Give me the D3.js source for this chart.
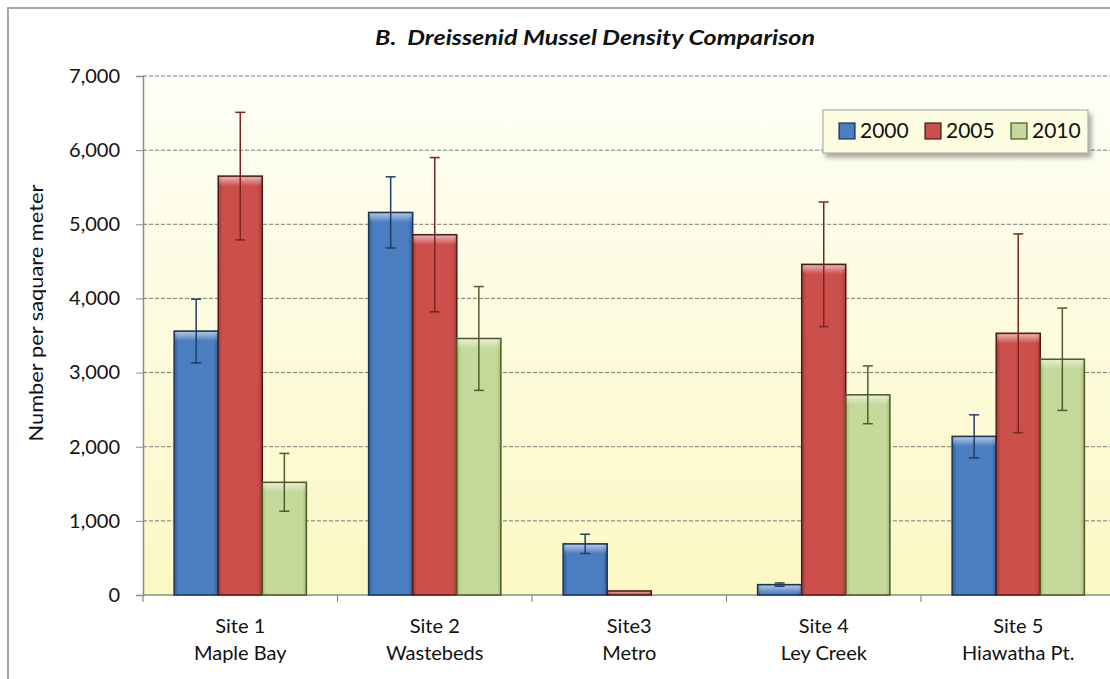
<!DOCTYPE html>
<html>
<head>
<meta charset="utf-8">
<script src="https://cdn.jsdelivr.net/npm/d3@7"></script>
<style>
  body { margin: 0; background: #fff; }
  svg text { font-family: Lato, "Open Sans", sans-serif; fill: #111; }
</style>
</head>
<body>
<div id="chart"></div>
<script>
const siteLabels = ["Site 1", "Site 2", "Site3", "Site 4", "Site 5"];
const siteNames = ["Maple Bay", "Wastebeds", "Metro", "Ley Creek", "Hiawatha Pt."];
const years = ["2000", "2005", "2010"];
const density2000 = [3560, 5160, 690, 140, 2140];
const error2000 = [430, 480, 130, 22, 290];
const density2005 = [5650, 4860, 55, 4460, 3530];
const error2005 = [860, 1040, 0, 840, 1340];
const density2010 = [1520, 3460, 0, 2700, 3180];
const error2010 = [390, 700, 0, 390, 690];
const yTicks = [0, 1000, 2000, 3000, 4000, 5000, 6000, 7000];

const width = 1110, height = 679;
const plot = {left: 143, right: 1115.5, top: 76, bottom: 595};

const colors = {
  "2000": {fill: "#4a7ec0", dark: "#2f5d96", stroke: "#1e3553", err: "#1f3d66"},
  "2005": {fill: "#cd4f4c", dark: "#a33a37", stroke: "#4e1c1a", err: "#7a2422"},
  "2010": {fill: "#c5d99a", dark: "#a5bd73", stroke: "#4a5a28", err: "#4f5d2c"}
};

const means = {"2000": density2000, "2005": density2005, "2010": density2010};
const errs = {"2000": error2000, "2005": error2005, "2010": error2010};

const rows = siteLabels.map((s, i) => ({
  site: s,
  name: siteNames[i],
  values: years.map(y => ({year: y, site: s, value: means[y][i], err: errs[y][i]}))
}));

const svg = d3.select("#chart").append("svg")
  .attr("width", width).attr("height", height);

const defs = svg.append("defs");

// plot background
const bg = defs.append("linearGradient").attr("id", "plotbg")
  .attr("x1", "0%").attr("x2", "0%").attr("y1", "0%").attr("y2", "100%");
bg.append("stop").attr("offset", "0%").attr("stop-color", "#fefef6");
bg.append("stop").attr("offset", "100%").attr("stop-color", "#fbf8c4");

// bar bevel gradients
years.forEach(y => {
  const c = colors[y];
  const g = defs.append("linearGradient").attr("id", "bar" + y)
    .attr("x1", "0%").attr("x2", "100%").attr("y1", "0%").attr("y2", "0%");
  g.append("stop").attr("offset", "0%").attr("stop-color", c.dark);
  g.append("stop").attr("offset", "10%").attr("stop-color", c.fill);
  g.append("stop").attr("offset", "90%").attr("stop-color", c.fill);
  g.append("stop").attr("offset", "100%").attr("stop-color", c.dark);
});
const hl = defs.append("linearGradient").attr("id", "barhl")
  .attr("x1", "0%").attr("x2", "0%").attr("y1", "0%").attr("y2", "100%");
hl.append("stop").attr("offset", "0%").attr("stop-color", "#fff").attr("stop-opacity", 0.55);
hl.append("stop").attr("offset", "100%").attr("stop-color", "#fff").attr("stop-opacity", 0);

defs.append("filter").attr("id", "shadow")
  .attr("x", "-10%").attr("y", "-10%").attr("width", "130%").attr("height", "160%")
  .append("feDropShadow").attr("dx", 3).attr("dy", 4).attr("stdDeviation", 2.5)
  .attr("flood-color", "#000").attr("flood-opacity", 0.35);

// outer chart border
svg.append("rect")
  .attr("x", 8).attr("y", 8).attr("width", 1120).attr("height", 700)
  .attr("fill", "#fff").attr("stroke", "#a6a6a6").attr("stroke-width", 2);

const x0 = d3.scaleBand().domain(siteLabels).range([plot.left, plot.right])
  .paddingInner(0.32).paddingOuter(0.16);
const x1 = d3.scaleBand().domain(years).range([0, x0.bandwidth()]);
const y = d3.scaleLinear().domain([0, 7000]).range([plot.bottom, plot.top]);

svg.append("rect")
  .attr("x", plot.left).attr("y", plot.top)
  .attr("width", plot.right - plot.left).attr("height", plot.bottom - plot.top)
  .attr("fill", "url(#plotbg)");

// gridlines
svg.append("g")
  .selectAll("line")
  .data(yTicks.filter(d => d > 0))
  .join("line")
  .attr("x1", plot.left).attr("x2", plot.right)
  .attr("y1", d => y(d)).attr("y2", d => y(d))
  .attr("stroke", "#7a7a7a").attr("stroke-width", 1)
  .attr("stroke-dasharray", "4,2");

// y axis
const yAxis = svg.append("g")
  .attr("transform", `translate(${plot.left},0)`)
  .call(d3.axisLeft(y).tickValues(yTicks).tickFormat(d3.format(",")).tickSize(7).tickPadding(16));
yAxis.select(".domain").attr("stroke", "#8c8c8c").attr("stroke-width", 1.5);
yAxis.selectAll(".tick line").attr("stroke", "#8c8c8c");
yAxis.selectAll(".tick text").attr("font-size", 20).attr("font-family", "Lato").attr("fill", "#111");

// x axis
const xAxis = svg.append("g")
  .attr("transform", `translate(0,${plot.bottom})`);
xAxis.append("line")
  .attr("x1", plot.left).attr("x2", plot.right)
  .attr("stroke", "#8c8c8c").attr("stroke-width", 1.5);
const bounds = siteLabels.map(s => x0(s) - x0.step() * x0.paddingOuter());
xAxis.selectAll(".xtick")
  .data(bounds)
  .join("line")
  .attr("class", "xtick")
  .attr("x1", d => d).attr("x2", d => d)
  .attr("y1", 0).attr("y2", 7)
  .attr("stroke", "#8c8c8c").attr("stroke-width", 1.2);

const labels = svg.append("g").selectAll("text")
  .data(rows)
  .join("text")
  .attr("text-anchor", "middle")
  .attr("font-size", 20);
labels.append("tspan")
  .attr("x", d => x0(d.site) + x0.bandwidth() / 2)
  .attr("y", 633)
  .text(d => d.site);
labels.append("tspan")
  .attr("x", d => x0(d.site) + x0.bandwidth() / 2)
  .attr("y", 660)
  .text(d => d.name);

// bars
const groups = svg.append("g").selectAll("g")
  .data(rows)
  .join("g")
  .attr("transform", d => `translate(${x0(d.site)},0)`);

const bars = groups.selectAll("g.bar")
  .data(d => d.values.filter(v => v.value > 0))
  .join("g").attr("class", "bar");

bars.append("rect")
  .attr("x", d => x1(d.year))
  .attr("y", d => y(d.value))
  .attr("width", x1.bandwidth())
  .attr("height", d => y(0) - y(d.value))
  .attr("fill", d => `url(#bar${d.year})`)
  .attr("stroke", d => colors[d.year].stroke)
  .attr("stroke-width", 1.5);

bars.append("rect")
  .attr("x", d => x1(d.year) + 1)
  .attr("y", d => y(d.value) + 1)
  .attr("width", x1.bandwidth() - 2)
  .attr("height", d => Math.min(9, Math.max(0, y(0) - y(d.value) - 2)))
  .attr("fill", "url(#barhl)");

// error bars
const errBars = bars.filter(d => d.err > 0);
const cap = 5;
errBars.append("line")
  .attr("x1", d => x1(d.year) + x1.bandwidth() / 2)
  .attr("x2", d => x1(d.year) + x1.bandwidth() / 2)
  .attr("y1", d => y(d.value + d.err))
  .attr("y2", d => y(d.value - d.err))
  .attr("stroke", d => colors[d.year].err).attr("stroke-width", 1.5);
errBars.append("line")
  .attr("x1", d => x1(d.year) + x1.bandwidth() / 2 - cap)
  .attr("x2", d => x1(d.year) + x1.bandwidth() / 2 + cap)
  .attr("y1", d => y(d.value + d.err))
  .attr("y2", d => y(d.value + d.err))
  .attr("stroke", d => colors[d.year].err).attr("stroke-width", 1.5);
errBars.append("line")
  .attr("x1", d => x1(d.year) + x1.bandwidth() / 2 - cap)
  .attr("x2", d => x1(d.year) + x1.bandwidth() / 2 + cap)
  .attr("y1", d => y(d.value - d.err))
  .attr("y2", d => y(d.value - d.err))
  .attr("stroke", d => colors[d.year].err).attr("stroke-width", 1.5);

// y axis title
svg.append("text")
  .attr("transform", "translate(43,313) rotate(-90)")
  .attr("text-anchor", "middle")
  .attr("font-size", 20)
  .attr("textLength", 257)
  .attr("lengthAdjust", "spacingAndGlyphs")
  .text("Number per saquare meter");

// chart title
svg.append("text")
  .attr("x", 595).attr("y", 45)
  .attr("text-anchor", "middle")
  .attr("font-size", 20)
  .attr("font-weight", "bold")
  .attr("font-style", "italic")
  .attr("textLength", 440)
  .attr("lengthAdjust", "spacingAndGlyphs")
  .text("B.\u00a0\u00a0Dreissenid Mussel Density Comparison");

// legend
const legend = svg.append("g").attr("transform", "translate(823,110)");
legend.append("rect")
  .attr("width", 265).attr("height", 43)
  .attr("fill", "#fdfde2").attr("stroke", "#a0a0a0").attr("stroke-width", 1)
  .attr("filter", "url(#shadow)");
const items = legend.selectAll("g.item")
  .data(years)
  .join("g").attr("class", "item")
  .attr("transform", (d, i) => `translate(${16 + i * 86},13)`);
items.append("rect")
  .attr("width", 16).attr("height", 16)
  .attr("fill", d => `url(#bar${d})`)
  .attr("stroke", d => colors[d].stroke).attr("stroke-width", 1.2);
items.append("text")
  .attr("x", 21).attr("y", 15)
  .attr("font-size", 21)
  .text(d => d);
</script>
</body>
</html>
